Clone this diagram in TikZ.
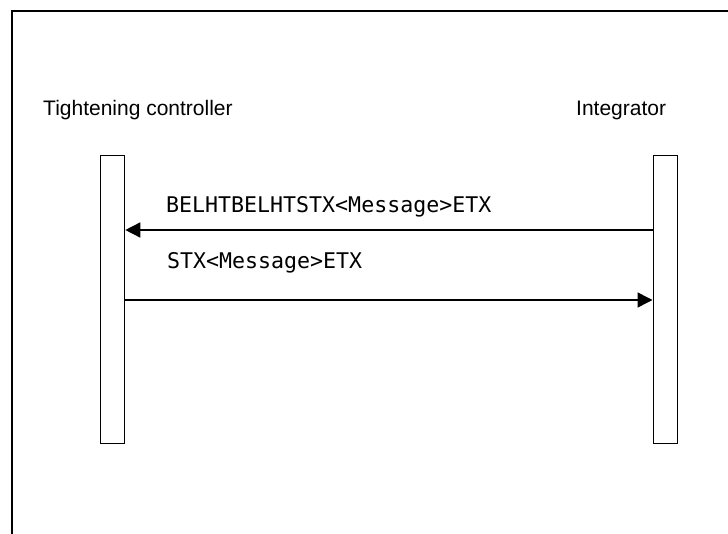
\documentclass[tikz,border=0pt]{standalone}
\usepackage{fontspec}
\setmainfont{Liberation Sans}
\newfontfamily\monofont{DejaVu Sans Mono}
\usetikzlibrary{arrows.meta}
\tikzset{
  lifeline/.style={draw, line width=1.3pt, rectangle, minimum width=24pt, minimum height=288pt, inner sep=0pt, anchor=north west},
  actor/.style={inner sep=0pt, anchor=base west, font=\fontsize{21}{24}\selectfont},
  msglabel/.style={inner sep=0pt, anchor=base west, font=\fontsize{21.6}{24}\monofont},
  msg/.style={line width=1.5pt, -{Triangle[length=15pt,width=15pt]}},
  frame/.style={line width=2pt}
}
\begin{document}
\begin{tikzpicture}[x=1pt,y=-1pt]
\useasboundingbox (0,0) rectangle (728,534);
\coordinate (f1) at (12,534);
\coordinate (f2) at (12,11);
\coordinate (f3) at (728,11);
\draw[frame] (f1) -- (f2) -- (f3);
\node[actor] (tc) at (43,116) {Tightening controller};
\node[actor] (ig) at (576,116) {Integrator};
\node[lifeline] (lb) at (100,155) {};
\node[lifeline] (rb) at (652.5,155) {};
\coordinate (a1) at (0,230);
\coordinate (a2) at (0,300);
\draw[msg] (rb.west |- a1) -- (lb.east |- a1);
\draw[msg] (lb.east |- a2) -- (rb.west |- a2);
\node[msglabel] (m1) at (166,213) {BELHTBELHTSTX<Message>ETX};
\node[msglabel] (m2) at (167,269) {STX<Message>ETX};
\end{tikzpicture}
\end{document}
